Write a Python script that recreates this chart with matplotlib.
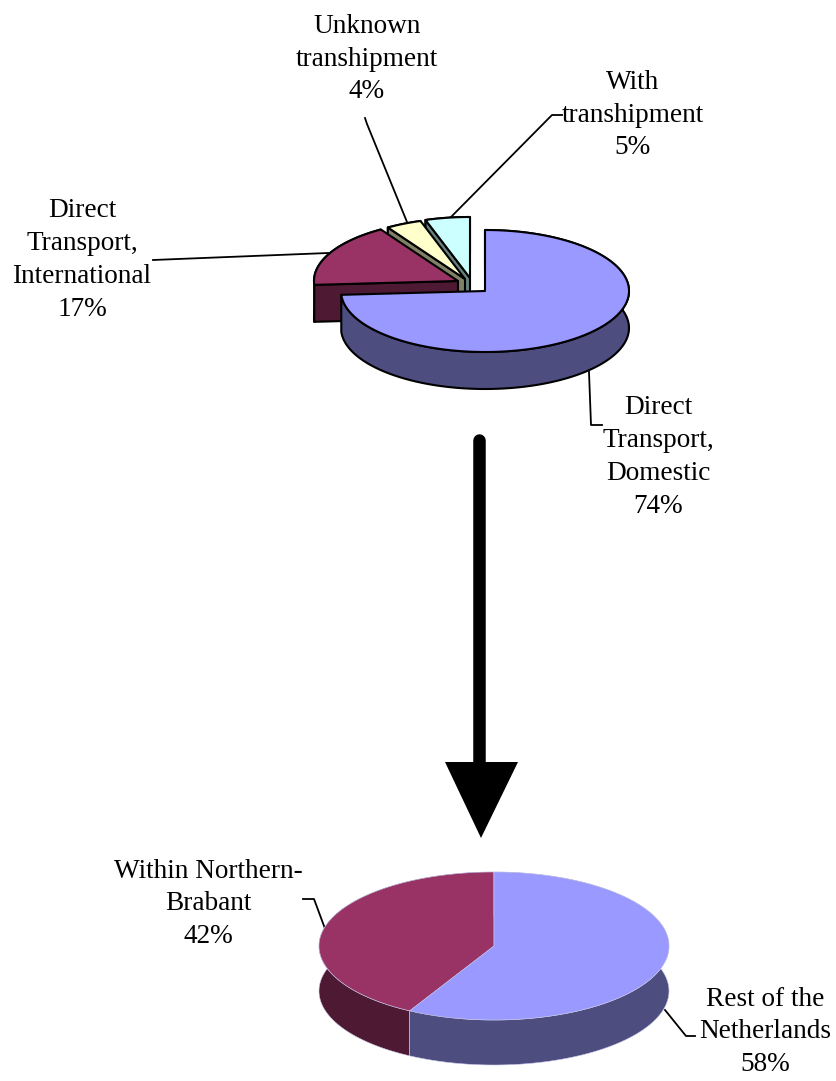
import numpy as np
import matplotlib
matplotlib.use("Agg")
import matplotlib.pyplot as plt
from matplotlib.patches import Polygon

plt.rcParams['font.family'] = ['Liberation Serif', 'DejaVu Serif']

# upper pie
top_labels = ["Direct\nTransport,\nDomestic\n74%", "Direct\nTransport,\nInternational\n17%",
              "Unknown\ntranshipment\n4%", "With\ntranshipment\n5%"]
top_values = [74, 17, 4, 5]
top_colors = ["#9999FF", "#993366", "#FFFFCC", "#CCFFFF"]
top_sides = ["#4D4D80", "#4D1933", "#808066", "#668080"]
# apex of each pulled out slice, in pixels
top_apex = [(485, 291), (458, 281), (465, 279), (470, 278)]

# lower pie
low_labels = ["Rest of the\nNetherlands\n58%", "Within Northern-\nBrabant\n42%"]
low_values = [58, 42]
low_colors = ["#9999FF", "#993366"]
low_sides = ["#4D4D80", "#4D1933"]
low_apex = [(494, 946), (494, 946)]


def slice_3d(ax, apex, a0, a1, rx, ry, depth, col, side, ec, lw, z):
    # angles clockwise from 12 o'clock, the rim is an ellipse because of the tilt
    th = np.radians(np.linspace(a0, a1, 200))
    cx, cy = apex
    xs = cx + rx * np.sin(th)
    ys = cy - ry * np.cos(th)
    kw = dict(edgecolor=ec, linewidth=lw, joinstyle='round')

    # outer wall
    wall = np.r_[np.c_[xs, ys], np.c_[xs, ys + depth][::-1]]
    ax.add_patch(Polygon(wall, facecolor=side, zorder=z, **kw))
    # cut face, only seen when it looks towards the viewer
    if np.sin(th[0]) < -1e-6:
        face = [(cx, cy), (xs[0], ys[0]), (xs[0], ys[0] + depth), (cx, cy + depth)]
        ax.add_patch(Polygon(face, facecolor=side, zorder=z, **kw))
    # top
    top = np.r_[[[cx, cy]], np.c_[xs, ys]]
    ax.add_patch(Polygon(top, facecolor=col, zorder=z, **kw))


def pie_3d(ax, values, apexes, colors, sides, rx, ry, depth, ec, lw):
    ends = np.cumsum(values) / np.sum(values) * 360
    starts = np.r_[0, ends[:-1]]
    # back slices first, the first slice sits in front of everything
    n = len(values)
    for i in range(n - 1, -1, -1):
        slice_3d(ax, apexes[i], starts[i], ends[i], rx, ry, depth,
                 colors[i], sides[i], ec, lw, 3 + (n - i) * 0.1)


fig = plt.figure(figsize=(8.36, 10.81), dpi=100)
ax = fig.add_axes([0, 0, 1, 1])
ax.set_xlim(0, 836)
ax.set_ylim(1081, 0)
ax.axis('off')

pie_3d(ax, top_values, top_apex, top_colors, top_sides, 144, 61, 37, 'black', 1.5)
pie_3d(ax, low_values, low_apex, low_colors, low_sides, 175, 74, 45, '#C8C8E8', 0.4)

# leader lines
leaders = [
    ([562, 552, 450], [115, 115, 218]),
    ([365, 367, 407], [118, 124, 222]),
    ([153, 328], [260, 253]),
    ([589, 591, 602], [372, 425, 425]),
    ([303, 314, 327], [899, 899, 934]),
    ([665, 686, 695], [1010, 1036, 1036]),
]
for lx, ly in leaders:
    ax.plot(lx, ly, color='black', lw=1.3, zorder=2)

# big arrow
ax.plot([479, 479], [440, 770], color='black', lw=9, solid_capstyle='round', zorder=2)
ax.add_patch(Polygon([(445, 762), (518, 762), (481, 838)], facecolor='black', edgecolor='none', zorder=2))

# labels, centre of the block in pixels
label_pos = {
    top_labels[0]: (658, 457),
    top_labels[1]: (82, 260),
    top_labels[2]: (367, 59),
    top_labels[3]: (633, 115),
    low_labels[0]: (765, 1032),
    low_labels[1]: (208, 904),
}
for txt, (x, y) in label_pos.items():
    ax.text(x, y, txt, ha='center', va='center', fontsize=19.6, linespacing=1.42, color='black', zorder=6)

fig.savefig("out.png", dpi=100, facecolor='white')
